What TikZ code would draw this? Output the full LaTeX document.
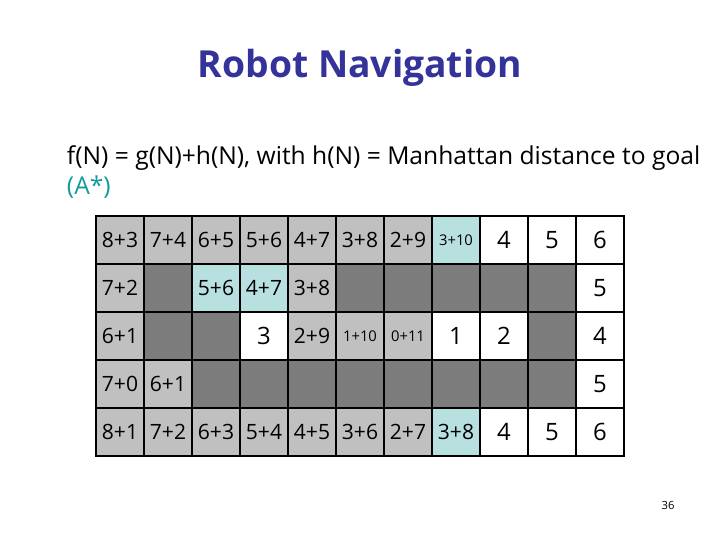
\documentclass[tikz,border=0pt]{standalone}
\usepackage{fontspec}
\setmainfont{Open Sans}
\usetikzlibrary{positioning}

\definecolor{titleblue}{HTML}{333399}
\definecolor{teal}{HTML}{159A9C}
\definecolor{lightcell}{HTML}{C0C0C0}
\definecolor{darkcell}{HTML}{7C7C7C}
\definecolor{pathcell}{HTML}{B8E0E0}

\tikzset{
  cell/.style={draw=black,line width=1.4pt,minimum size=1.2cm,inner sep=0pt,
    font=\fontsize{15}{18}\selectfont},
  gc/.style={cell,fill=lightcell},
  dc/.style={cell,fill=darkcell},
  cc/.style={cell,fill=pathcell},
  wc/.style={cell,fill=white,font=\fontsize{17}{20}\selectfont},
  tiny/.style={font=\fontsize{10.5}{13}\selectfont}
}

\begin{document}
\begin{tikzpicture}[x=0.025cm,y=-0.025cm]
\useasboundingbox[fill=white] (0,0) rectangle (720,540);
% title and formula
\node[font=\bfseries\fontsize{26.5}{30}\selectfont,text=titleblue] (title) at (360,68) {Robot Navigation};
\node[anchor=west,font=\fontsize{17.5}{20}\selectfont] (formula) at (62,158) {f(N) = g(N)+h(N), with h(N) = Manhattan distance to goal};
\node[anchor=west,font=\fontsize{17.5}{20}\selectfont,text=teal] (astar) at (62,187) {(A*)};
% row 0
\node[gc] (c00) at (120,240) {8+3};
\node[gc] (c01) at (168,240) {7+4};
\node[gc] (c02) at (216,240) {6+5};
\node[gc] (c03) at (264,240) {5+6};
\node[gc] (c04) at (312,240) {4+7};
\node[gc] (c05) at (360,240) {3+8};
\node[gc] (c06) at (408,240) {2+9};
\node[cc,tiny] (c07) at (456,240) {3+10};
\node[wc] (c08) at (504,240) {4};
\node[wc] (c09) at (552,240) {5};
\node[wc] (c010) at (600,240) {6};
% row 1
\node[gc] (c10) at (120,288) {7+2};
\node[dc] (c11) at (168,288) {};
\node[cc] (c12) at (216,288) {5+6};
\node[cc] (c13) at (264,288) {4+7};
\node[gc] (c14) at (312,288) {3+8};
\node[dc] (c15) at (360,288) {};
\node[dc] (c16) at (408,288) {};
\node[dc] (c17) at (456,288) {};
\node[dc] (c18) at (504,288) {};
\node[dc] (c19) at (552,288) {};
\node[wc] (c110) at (600,288) {5};
% row 2
\node[gc] (c20) at (120,336) {6+1};
\node[dc] (c21) at (168,336) {};
\node[dc] (c22) at (216,336) {};
\node[wc] (c23) at (264,336) {3};
\node[gc] (c24) at (312,336) {2+9};
\node[gc,tiny] (c25) at (360,336) {1+10};
\node[gc,tiny] (c26) at (408,336) {0+11};
\node[wc] (c27) at (456,336) {1};
\node[wc] (c28) at (504,336) {2};
\node[dc] (c29) at (552,336) {};
\node[wc] (c210) at (600,336) {4};
% row 3
\node[gc] (c30) at (120,384) {7+0};
\node[gc] (c31) at (168,384) {6+1};
\node[dc] (c32) at (216,384) {};
\node[dc] (c33) at (264,384) {};
\node[dc] (c34) at (312,384) {};
\node[dc] (c35) at (360,384) {};
\node[dc] (c36) at (408,384) {};
\node[dc] (c37) at (456,384) {};
\node[dc] (c38) at (504,384) {};
\node[dc] (c39) at (552,384) {};
\node[wc] (c310) at (600,384) {5};
% row 4
\node[gc] (c40) at (120,432) {8+1};
\node[gc] (c41) at (168,432) {7+2};
\node[gc] (c42) at (216,432) {6+3};
\node[gc] (c43) at (264,432) {5+4};
\node[gc] (c44) at (312,432) {4+5};
\node[gc] (c45) at (360,432) {3+6};
\node[gc] (c46) at (408,432) {2+7};
\node[cc] (c47) at (456,432) {3+8};
\node[wc] (c48) at (504,432) {4};
\node[wc] (c49) at (552,432) {5};
\node[wc] (c410) at (600,432) {6};
% page number
\node[font=\fontsize{8}{10}\selectfont] (page) at (668,505) {36};
\end{tikzpicture}
\end{document}
